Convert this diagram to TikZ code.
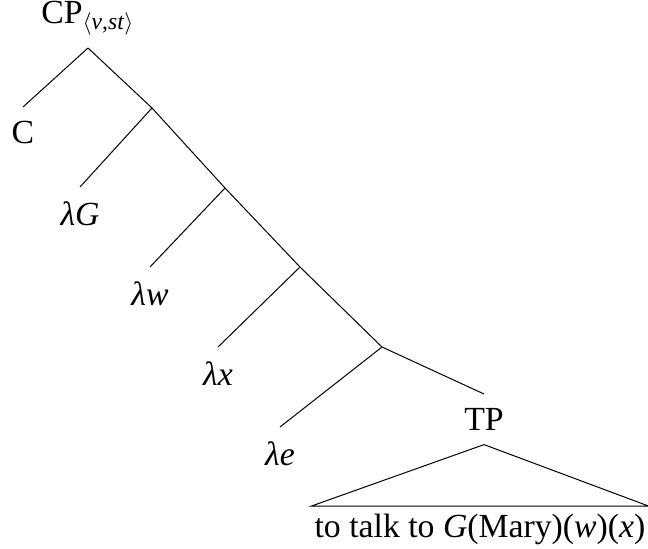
\documentclass[tikz,border=0pt]{standalone}
\usepackage{fontspec}
\setmainfont{Liberation Serif}
\usepackage{tikz}
\usetikzlibrary{positioning}
\tikzset{
    rootnode/.style = {anchor=south, inner xsep=0pt, inner ysep=5pt, font=\fontsize{13.5}{16}\selectfont},
    leaf/.style = {anchor=north, inner xsep=0pt, inner ysep=5.5pt, font=\fontsize{13.5}{16}\selectfont},
    roof/.style = {anchor=north, inner xsep=1pt, inner ysep=3pt, font=\fontsize{13.5}{16}\selectfont},
    branch/.style = {line width=0.4pt, black},
}

\begin{document}
\begin{tikzpicture}[x=0.4pt,y=-0.4pt]
\useasboundingbox (0,0) rectangle (648,548);

\coordinate (j1) at (152,108);
\coordinate (j2) at (225,188);
\coordinate (j3) at (300,267);
\coordinate (j4) at (382,347);

\node[rootnode] at (88,48) (cp) {CP\textsubscript{$\langle$\textit{v},\textit{st}$\rangle$}};
\node[leaf] at (23,107) (c) {C};
\node[leaf] at (80,187) (lg) {\textit{λG}};
\node[leaf] at (150,267) (lw) {\textit{λw}};
\node[leaf] at (218,347) (lx) {\textit{λx}};
\node[leaf] at (280,427) (le) {\textit{λe}};
\node[leaf] at (484,394) (tp) {TP};
\node[roof] at (480,506) (rf) {to talk to \textit{G}(Mary)(\textit{w})(\textit{x})};
%
\draw[branch] (cp.south) -- (c.north);
\draw[branch] (cp.south) -- (j1) -- (j2) -- (j3) -- (j4) -- (tp.north);
\draw[branch] (j1) -- (lg.north);
\draw[branch] (j2) -- (lw.north);
\draw[branch] (j3) -- (lx.north);
\draw[branch] (j4) -- (le.north);
\draw[branch] (tp.south) -- (rf.north west) -- (rf.north east) -- cycle;

\end{tikzpicture}
\end{document}
